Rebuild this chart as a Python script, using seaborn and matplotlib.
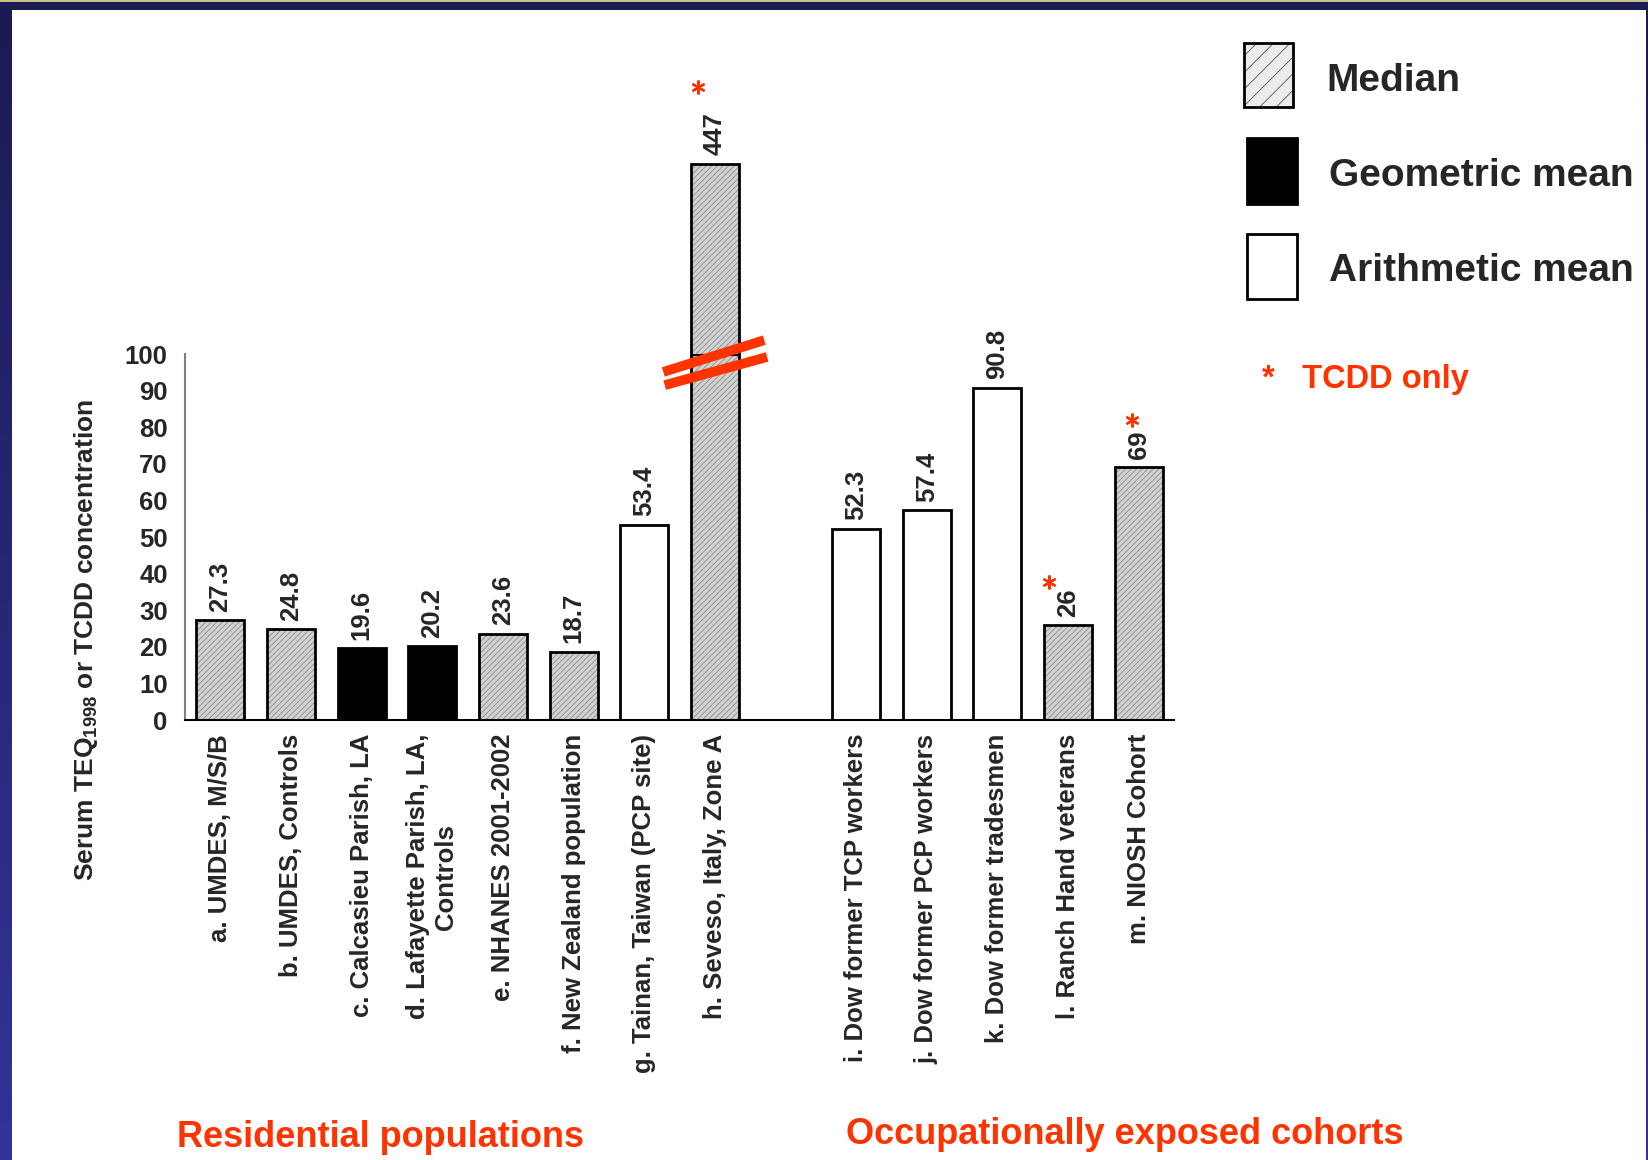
import numpy as np
import pandas as pd
import matplotlib
matplotlib.use("Agg")
import matplotlib.pyplot as plt
from matplotlib.patches import Rectangle
from matplotlib.colors import LinearSegmentedColormap, to_rgba
from matplotlib.transforms import offset_copy
import seaborn as sns

# data
labels = ["a. UMDES, M/S/B", "b. UMDES, Controls", "c. Calcasieu Parish, LA",
          "d. Lafayette Parish, LA,\nControls", "e. NHANES 2001-2002",
          "f. New Zealand population", "g. Tainan, Taiwan (PCP site)",
          "h. Seveso, Italy, Zone A",
          "i. Dow former TCP workers", "j. Dow former PCP workers",
          "k. Dow former tradesmen", "l. Ranch Hand veterans", "m. NIOSH Cohort"]
values = [27.3, 24.8, 19.6, 20.2, 23.6, 18.7, 53.4, 447, 52.3, 57.4, 90.8, 26, 69]
stats = ["Median", "Median", "Geometric mean", "Geometric mean", "Median", "Median",
         "Arithmetic mean", "Median", "Arithmetic mean", "Arithmetic mean",
         "Arithmetic mean", "Median", "Median"]
tcdd_only = [False, False, False, False, False, False, False, True,
             False, False, False, True, True]
stat_order = ["Median", "Geometric mean", "Arithmetic mean"]
groups = ["Residential populations", "Occupationally exposed cohorts"]

RED = "#ff3300"
BREAK_AT = 100      # axis is broken above this
BROKEN_TOP = 152    # height the broken bar is drawn to
GAP = " "
order = labels[:8] + [GAP] + labels[8:]

df = pd.DataFrame({"label": labels, "value": values, "stat": stats, "tcdd": tcdd_only})
df["drawn"] = df["value"].where(df["value"] <= BREAK_AT, BROKEN_TOP)

sns.set_style("white")
plt.rcParams["font.family"] = ["Liberation Sans", "DejaVu Sans"]
plt.rcParams["mathtext.default"] = "regular"
plt.rcParams["hatch.linewidth"] = 0.6


def hatch_gray(patch, color):
    # keep the black outline but draw the hatch in gray
    try:
        patch.set_hatchcolor(color)
    except AttributeError:
        patch._hatch_color = to_rgba(color)


fig = plt.figure(figsize=(16.48, 11.6), dpi=100)
ax = fig.add_axes([0.1123, 0.3793, 0.6001, 0.5048])

palette = {"Median": "#d2d2d2", "Geometric mean": "black", "Arithmetic mean": "white"}
sns.barplot(data=df, x="label", y="drawn", hue="stat", order=order, hue_order=stat_order,
            palette=palette, saturation=1, width=0.68, dodge=False, edgecolor="black",
            linewidth=2, legend=False, ax=ax)
for cont, st in zip(ax.containers, stat_order):
    if st == "Median":
        for bar in cont:
            bar.set_hatch("//////")
            hatch_gray(bar, "#8c8c8c")

ax.set_xlim(-0.5, len(order) - 0.5)
ax.set_ylim(0, 160)
ax.set_xlabel("")
ax.set_ylabel("")
for s in ["top", "right"]:
    ax.spines[s].set_visible(False)
ax.spines["left"].set_bounds(0, BREAK_AT)
ax.spines["left"].set_color("#808080")
ax.spines["left"].set_linewidth(1.5)
ax.spines["bottom"].set_color("black")
ax.spines["bottom"].set_linewidth(1.5)

ax.set_yticks(range(0, 101, 10))
ax.set_yticklabels([str(t) for t in range(0, 101, 10)], fontsize=18.5, fontweight="bold")
ax.tick_params(axis="y", direction="inout", length=11, width=1.2, color="#808080", pad=7)

ax.set_xticks(range(len(order)))
ax.set_xticklabels(order, rotation=90, fontsize=18.5, fontweight="bold")
ax.tick_params(axis="x", which="major", length=0, pad=10)
ax.set_xticks(np.arange(-0.5, len(order), 1), minor=True)
ax.tick_params(axis="x", which="minor", direction="out", length=5, width=1.5, color="#808080")

# value labels and TCDD stars (stars as asterisk markers)
star_offsets = {7: (-12, 55), 12: (-14, 31), 13: (-5, 34)}
for _, row in df.iterrows():
    xi = order.index(row["label"])
    ax.annotate(f"{row['value']:g}", (xi, row["drawn"]), xytext=(0, 6),
                textcoords="offset points", rotation=90, ha="center", va="bottom",
                fontsize=18.5, fontweight="bold", annotation_clip=False)
    if row["tcdd"]:
        dx, dy = star_offsets[xi]
        tr = offset_copy(ax.transData, fig=fig, x=dx, y=dy, units="points")
        ax.plot([xi], [row["drawn"]], transform=tr, marker=(6, 2, 0), markersize=10,
                markeredgewidth=1.6, color=RED, clip_on=False, zorder=7)

# axis break on the Seveso bar
hx = order.index(labels[7])
ax.hlines(BREAK_AT - 0.3, hx - 0.34, hx + 0.34, color="black", lw=1.5, zorder=4)
ax.plot([hx - 0.71, hx + 0.74], [BREAK_AT - 8.5, BREAK_AT - 0.8], color=RED, lw=7,
        solid_capstyle="butt", clip_on=False, zorder=6)
ax.plot([hx - 0.73, hx + 0.70], [BREAK_AT - 4.9, BREAK_AT + 3.8], color=RED, lw=7,
        solid_capstyle="butt", clip_on=False, zorder=6)

fig.text(0.0522, 0.4483, "Serum TEQ$_{1998}$ or TCDD concentration", rotation=90,
         ha="center", va="center", fontsize=19, fontweight="bold")

# legend drawn by hand, as on the slide
leg_boxes = [(0.7549, 0.9078, 0.0297, 0.0552), (0.7567, 0.8241, 0.0303, 0.0569),
             (0.7567, 0.7422, 0.0303, 0.0560)]
leg_text = [(0.8046, 0.9216), (0.8064, 0.8397), (0.8064, 0.7578)]
for st, (x0, y0, w, h), (tx, ty) in zip(stat_order, leg_boxes, leg_text):
    face = "#ececec" if st == "Median" else palette[st]
    r = Rectangle((x0, y0), w, h, transform=fig.transFigure, facecolor=face,
                  edgecolor="black", lw=2, hatch="//" if st == "Median" else None)
    if st == "Median":
        hatch_gray(r, "#555555")
    fig.add_artist(r)
    fig.text(tx, ty, st, fontsize=28, fontweight="bold", va="baseline", ha="left")
fig.text(0.7658, 0.6655, "*   TCDD only", fontsize=23.5, fontweight="bold", color=RED,
         va="baseline", ha="left")

fig.text(0.2306, 0.0112, groups[0], fontsize=26, fontweight="bold", color=RED,
         ha="center", va="baseline")
fig.text(0.6826, 0.0138, groups[1], fontsize=26, fontweight="bold", color=RED,
         ha="center", va="baseline")

# slide frame
cmap = LinearSegmentedColormap.from_list("frame", ["#333399", "#1b1a52"])
grad = np.linspace(0, 1, 256).reshape(-1, 1)
for rect in ([0, 0, 12 / 1648, 1], [1 - 2 / 1648, 0, 2 / 1648, 1]):
    fax = fig.add_axes(rect)
    fax.imshow(grad, aspect="auto", cmap=cmap, origin="lower")
    fax.set_axis_off()
fig.add_artist(Rectangle((0, 1 - 10 / 1160), 1, 10 / 1160, transform=fig.transFigure,
                         facecolor="#1b1a52", edgecolor="none"))
fig.add_artist(Rectangle((0, 1 - 1.5 / 1160), 1, 1.5 / 1160, transform=fig.transFigure,
                         facecolor="#c8c38a", edgecolor="none"))

fig.savefig("out.png", dpi=100)
